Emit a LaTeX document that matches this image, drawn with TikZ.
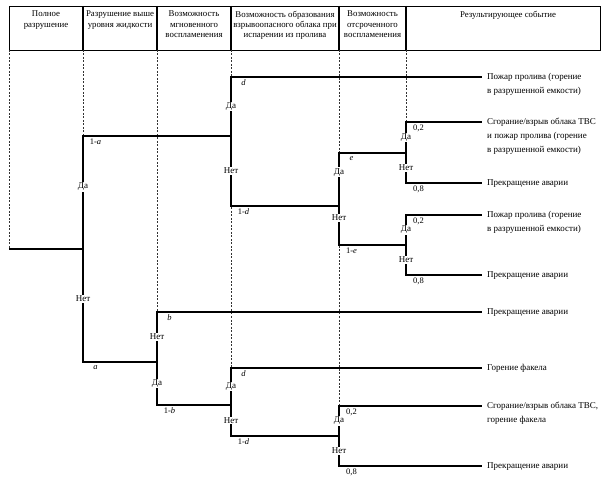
\documentclass[tikz,border=0pt]{standalone}
\usepackage{fontspec}
\setmainfont{Liberation Serif}
\usetikzlibrary{positioning,calc}
\tikzset{
  branch/.style={line width=1.1pt,black},
  guide/.style={line width=0.5pt,black!80,dash pattern=on 2pt off 1.5pt},
  hdr/.style={font=\fontsize{8.8}{10.2}\selectfont,align=center,
              anchor=north,inner sep=0pt},
  answer/.style={font=\fontsize{9}{10}\selectfont,fill=white,
                 inner sep=1pt,pos=0.25},
  prob/.style={font=\fontsize{8.5}{10}\selectfont,anchor=north,
               inner sep=0pt,pos=0.5,xshift=12.5pt,yshift=-2.5pt},
  outcome/.style={font=\fontsize{9}{14}\selectfont,align=left,
                  anchor=north west,inner sep=0pt},
}

\begin{document}
\begin{tikzpicture}[x=1pt,y=-1pt]
  \useasboundingbox (0,0) rectangle (605,478);

  %% Header table
  \node[draw,line width=1.1pt,anchor=north west,inner sep=0pt,
        minimum width=591pt,minimum height=44pt] (head) at (9,6) {};
  \foreach \x in {83,157,231,339,406}
    \draw[line width=1.1pt] (\x,6) -- (\x,50);

  \node[hdr] (hFull)   at (46,11)    {Полное\\разрушение};
  \node[hdr] (hLevel)  at (120,11)   {Разрушение выше\\уровня жидкости};
  \node[hdr] (hInst)   at (194,11)   {Возможность\\мгновенного\\воспламенения};
  \node[hdr] (hCloud)  at (285,11)   {Возможность образования\\взрывоопасного облака при\\испарении из пролива};
  \node[hdr] (hDelay)  at (372.5,11) {Возможность\\отсроченного\\воспламенения};
  \node[hdr] (hResult) at (508,11)   {Результирующее событие};

  %% Dashed guides below the header
  \foreach \x/\y in {9/249,83/136,157/312,231/368,339/406,406/122}
    \draw[guide] (\x,50) -- (\x,\y);

  %% Forks and line ends
  \coordinate (root) at (9,249);
  \coordinate (fA)   at (83,249);
  \coordinate (fD1)  at (231,136);
  \coordinate (fE)   at (339,206);
  \coordinate (fI1)  at (406,153);
  \coordinate (fI2)  at (406,245);
  \coordinate (fB)   at (157,362);
  \coordinate (fD2)  at (231,405);
  \coordinate (fI3)  at (339,436);
  \foreach \i/\y in {1/77,2/122,3/183,4/215,5/275,6/312,7/368,8/406,9/466}
    \coordinate (e\i) at (482,\y);

  %% Branches
  \draw[branch] (root) -- (fA);
  \draw[branch] (fA) |- node[answer,pos=0.275]{Да} node[prob]{1-\textit{a}} (fD1);
  \draw[branch] (fA) |- node[answer,pos=0.22]{Нет} node[prob]{\textit{a}} (fB);

  \draw[branch] (fD1) |- node[answer]{Да} node[prob]{\textit{d}} (e1);
  \draw[branch] (fD1) |- node[answer]{Нет} node[prob]{1-\textit{d}} (fE);
  \draw[branch] (fE) |- node[answer,pos=0.32]{Да} node[prob]{\textit{e}} (fI1);
  \draw[branch] (fE) |- node[answer,pos=0.15]{Нет} node[prob]{1-\textit{e}} (fI2);
  \draw[branch] (fI1) |- node[answer]{Да} node[prob]{0,2} (e2);
  \draw[branch] (fI1) |- node[answer]{Нет} node[prob]{0,8} (e3);
  \draw[branch] (fI2) |- node[answer]{Да} node[prob]{0,2} (e4);
  \draw[branch] (fI2) |- node[answer]{Нет} node[prob]{0,8} (e5);

  \draw[branch] (fB) |- node[answer]{Нет} node[prob]{\textit{b}} (e6);
  \draw[branch] (fB) |- node[answer]{Да} node[prob]{1-\textit{b}} (fD2);
  \draw[branch] (fD2) |- node[answer]{Да} node[prob]{\textit{d}} (e7);
  \draw[branch] (fD2) |- node[answer]{Нет} node[prob]{1-\textit{d}} (fI3);
  \draw[branch] (fI3) |- node[answer]{Да} node[prob]{0,2} (e8);
  \draw[branch] (fI3) |- node[answer]{Нет} node[prob]{0,8} (e9);

  %% Resulting events
  \node[outcome] (r1) at ([xshift=5pt,yshift=4pt]e1) {Пожар пролива (горение\\в разрушенной емкости)};
  \node[outcome] (r2) at ([xshift=5pt,yshift=4pt]e2) {Сгорание/взрыв облака ТВС\\и пожар пролива (горение\\в разрушенной емкости)};
  \node[outcome] (r3) at ([xshift=5pt,yshift=4pt]e3) {Прекращение аварии};
  \node[outcome] (r4) at ([xshift=5pt,yshift=4pt]e4) {Пожар пролива (горение\\в разрушенной емкости)};
  \node[outcome] (r5) at ([xshift=5pt,yshift=4pt]e5) {Прекращение аварии};
  \node[outcome] (r6) at ([xshift=5pt,yshift=4pt]e6) {Прекращение аварии};
  \node[outcome] (r7) at ([xshift=5pt,yshift=4pt]e7) {Горение факела};
  \node[outcome] (r8) at ([xshift=5pt,yshift=4pt]e8) {Сгорание/взрыв облака ТВС,\\горение факела};
  \node[outcome] (r9) at ([xshift=5pt,yshift=4pt]e9) {Прекращение аварии};

\end{tikzpicture}
\end{document}
